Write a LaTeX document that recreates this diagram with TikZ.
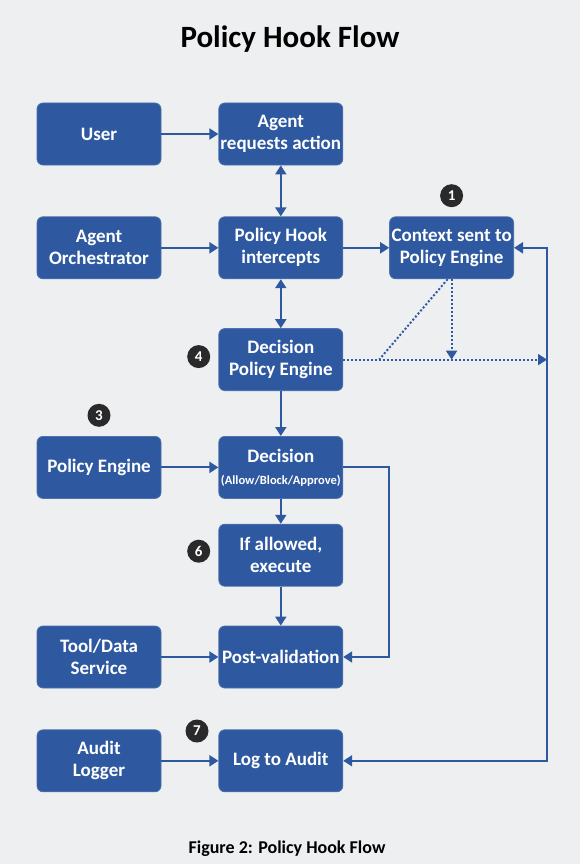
\documentclass[tikz,border=0pt]{standalone}
\usepackage{fontspec}
\setmainfont{Carlito}
\usetikzlibrary{positioning,arrows.meta,calc}
\definecolor{boxblue}{RGB}{46,89,160}
\definecolor{bggray}{RGB}{238,239,241}
\definecolor{badge}{RGB}{42,42,42}

\begin{document}
\begin{tikzpicture}[x=1pt,y=-1pt,>={Triangle[width=11pt,length=9pt]},every node/.style={font=\bfseries}]
\tikzstyle{st}=[fill=boxblue,draw=boxblue!85!white,line width=0.8pt,rounded corners=6pt,minimum width=124pt,minimum height=62pt,align=center,text=white,inner sep=1pt,font=\bfseries\fontsize{19}{22}\selectfont]
\tikzstyle{num}=[circle,fill=badge,text=white,minimum size=23pt,inner sep=0pt,font=\bfseries\fontsize{15}{15}\selectfont]
\tikzstyle{ln}=[draw=boxblue,line width=2pt]
\fill[bggray] (0,0) rectangle (580,864);
\useasboundingbox (0,0) rectangle (580,864);

\node[font=\bfseries\fontsize{31}{34}\selectfont] (title) at (290,39) {Policy Hook Flow};

\node[st] (user) at (99,134) {User};
\node[st,right=57pt of user] (request) {Agent\\requests action};
\node[st,below=51pt of user] (orch) {Agent\\Orchestrator};
\node[st,right=57pt of orch] (hook) {Policy Hook\\intercepts};
\node[st,right=46pt of hook] (context) {Context sent to\\Policy Engine};
\node[st,below=49pt of hook] (decpe) {Decision\\Policy Engine};
\node[st,below=45pt of decpe] (decision) {Decision\\{\fontsize{12.5}{15}\selectfont(Allow/Block/Approve)}};
\node[st,left=57pt of decision] (engine) {Policy Engine};
\node[st,below=25pt of decision] (execute) {If allowed,\\execute};
\node[st,below=39pt of execute] (postval) {Post-validation};
\node[st,left=57pt of postval] (tool) {Tool/Data\\Service};
\node[st,below=41pt of postval] (log) {Log to Audit};
\node[st,left=57pt of log] (auditlog) {Audit\\Logger};

\node[num,above=9pt of context] (n1) {1};
\node[num,left=8pt of decpe,yshift=3pt] (n4) {4};
\node[num,above=9pt of engine] (n3) {3};
\node[num,left=8pt of execute,yshift=4pt] (n6) {6};
\node[num] (n7) at (197,731) {7};

\node[font=\bfseries\fontsize{18}{20}\selectfont] (caption) at (287,849) {Figure 2: Policy Hook Flow};

\draw[ln,->] (user) -- (request);
\draw[ln,<->] (request) -- (hook);
\draw[ln,->] (orch) -- (hook);
\draw[ln,->] (hook) -- (context);
\draw[ln,<->] (hook) -- (decpe);
\draw[ln,->] (decpe) -- (decision);
\draw[ln,->] (engine) -- (decision);
\draw[ln,->] (decision) -- (execute);
\draw[ln,->] (execute) -- (postval);
\draw[ln,->] (decision.east) -- ++(46,0) |- (postval.east);
\draw[ln,->] (tool) -- (postval);
\draw[ln,->] (auditlog) -- (log);
\draw[ln,<->] (context.east) -- ++(33,0) coordinate (rail) |- (log.east);

% dotted feedback to the rail
\coordinate (railmid) at (rail |- decpe.east);
\coordinate (knee) at ($(decpe.east)+(36,0)$);
\draw[ln,dotted,->] (decpe.east) -- (railmid);
\draw[ln,dotted,->] (context.south) -- (context.south |- decpe.east);
\draw[ln,dotted] ([xshift=-4pt]context.south) -- (knee);
\end{tikzpicture}
\end{document}
